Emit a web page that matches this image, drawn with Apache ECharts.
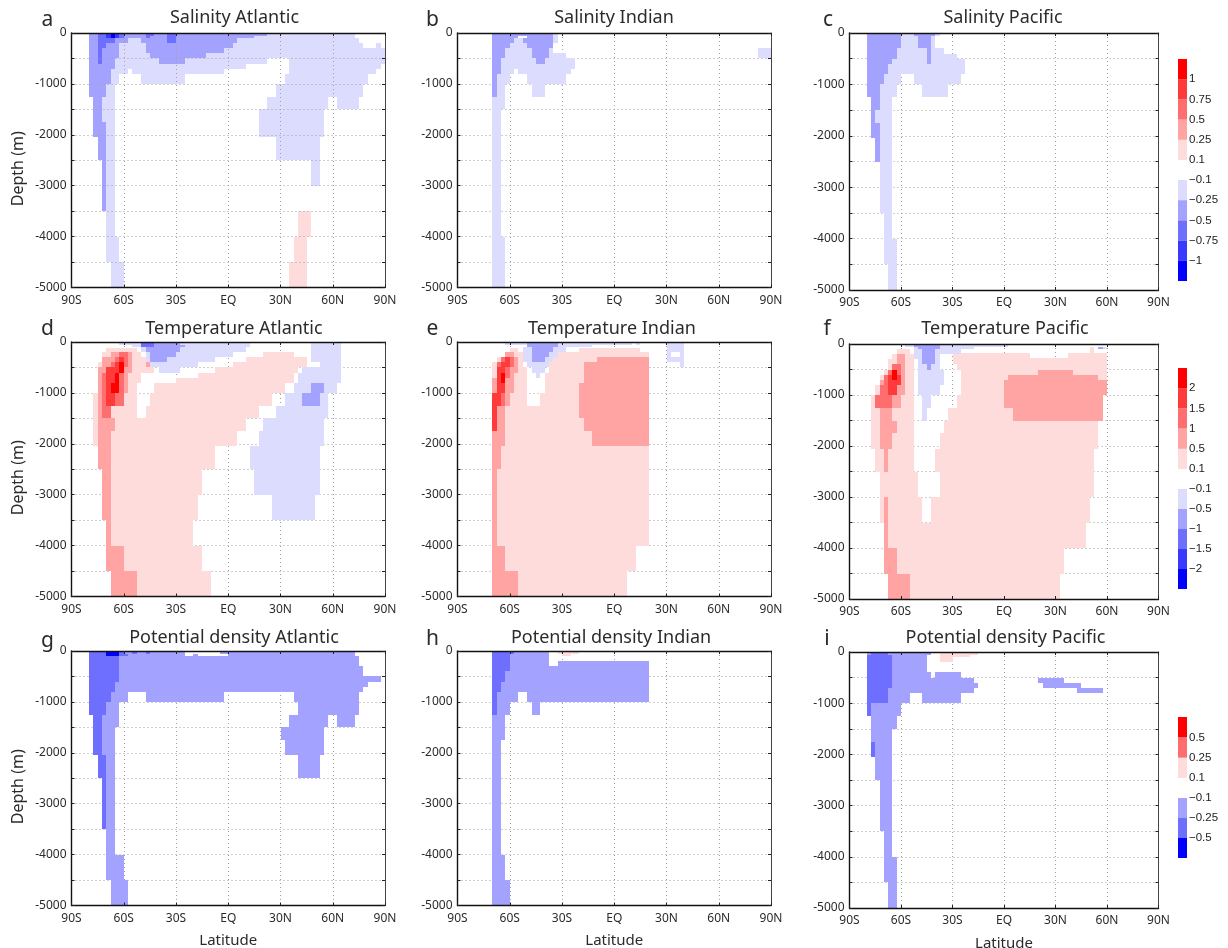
<!DOCTYPE html>
<html><head><meta charset="utf-8">
<style>html,body{margin:0;padding:0;background:#fff}#c{width:1228px;height:948px}</style>
<script src="https://cdn.jsdelivr.net/npm/echarts@6/dist/echarts.min.js"></script>
</head><body><div id="c"></div>
<script>
// Each row: [top depth, bottom depth, level, west, east, west, east, ...]
const salinityAtlantic=[
[0,100,-1,15,72.5],[100,200,-1,-57.5,-50,5,75],[200,300,-1,-62.5,-47.5,2.5,77.5,85,87.5],
[300,400,-1,-65,-45,-2.5,90],[400,500,-1,-65,-45,-12.5,90],[500,600,-1,-65,22.5,35,90],
[600,700,-1,-67.5,10,35,87.5],[700,800,-1,-67.5,-57.5,-55,-2.5,35,85],[800,1000,-1,-67.5,-62.5,-50,-25,32.5,80],
[1000,1250,-1,-70,-65,27.5,77.5],[1250,1500,-1,-72.5,-65,22.5,57.5,62.5,75],[1500,1750,-1,-72.5,-65,17.5,55],
[1750,2050,-1,-70,-65,17.5,55],[2050,2500,-1,-70,-65,27.5,52.5],[2500,3000,-1,-70,-65,47.5,52.5],
[3000,4000,-1,-70,-65],[4000,4500,-1,-70,-62.5],[4500,5000,-1,-67.5,-60],
[3500,4000,1,40,47.5],[4000,4500,1,37.5,45],[4500,5000,1,35,45],
[0,50,-2,-80,22.5],[50,100,-2,-80,15],[100,200,-2,-80,-57.5,-50,5],[200,300,-2,-80,-62.5,-47.5,2.5],
[300,400,-2,-80,-62.5,-47.5,-2.5],[400,500,-2,-80,-62.5,-45,-12.5],[500,600,-2,-80,-65,-40,-25],[600,700,-2,-80,-65],
[700,1000,-2,-80,-67.5],[1000,1250,-2,-80,-70],[1250,1750,-2,-77.5,-72.5],[1750,2050,-2,-77.5,-70],
[2050,2500,-2,-75,-70],[2500,3500,-2,-72.5,-70],
[0,100,-3,-75,-60],[100,200,-3,-75,-65],[200,300,-3,-75,-70],[300,600,-3,-75,-72.5],
[0,50,-3,-47.5,-42.5],[50,100,-3,-47.5,-45],[0,200,-3,-35,-30],
[0,100,-4,-70,-62.5],[0,100,-5,-67.5,-65]];
const salinityIndian=[
[0,200,-1,-35,-32.5],[300,400,-1,-62.5,-35],[400,500,-1,-62.5,-27.5],[500,700,-1,-65,-22.5],
[100,300,-1,-60,-50],[700,800,-1,-65,-57.5,-55,-25],[800,1000,-1,-67.5,-60,-50,-27.5],
[1000,1250,-1,-67.5,-62.5,-47.5,-40],[1250,1500,-1,-70,-62.5],[1500,4000,-1,-70,-65],[4000,5000,-1,-70,-62.5],
[300,500,-1,82.5,90],
[0,50,-2,-70,-35],[50,100,-2,-70,-55,-50,-35],[100,200,-2,-70,-57.5,-52.5,-35],[200,300,-2,-70,-60,-50,-35],
[300,500,-2,-70,-62.5,-47.5,-37.5],[500,600,-2,-70,-65,-45,-40],[600,800,-2,-70,-65],[800,1250,-2,-70,-67.5]];
const salinityPacific=[
[0,50,-1,-60,-37.5],[50,300,-1,-60,-40],[300,400,-1,-62.5,-35],[400,500,-1,-62.5,-27.5],[500,600,-1,-65,-22.5],
[600,800,-1,-67.5,-22.5],[800,1000,-1,-70,-60,-52.5,-25],[1000,1250,-1,-72.5,-62.5,-47.5,-32.5],
[1250,1500,-1,-72.5,-65],[1500,1750,-1,-75,-65],[1750,3500,-1,-72.5,-65],[3500,4000,-1,-70,-65],
[4000,4500,-1,-70,-62.5],[4500,5000,-1,-67.5,-62.5],
[0,300,-2,-80,-60],[300,500,-2,-80,-62.5],[500,600,-2,-80,-65],[600,800,-2,-80,-67.5],[800,1000,-2,-80,-70],
[1000,1250,-2,-80,-72.5],[1250,1500,-2,-77.5,-72.5],[1500,1750,-2,-77.5,-75],[1750,2050,-2,-77.5,-72.5],[2050,2500,-2,-75,-72.5],
[0,50,-2,-52.5,-40],[50,300,-2,-50,-42.5],[300,600,-2,-45,-42.5]];
const temperatureAtlantic=[
[0,50,-1,-62.5,12.5,47.5,65],[50,100,-1,-55,12.5,47.5,65],[100,200,-1,-50,10,47.5,65],[200,300,-1,-47.5,2.5,47.5,65],
[300,400,-1,-47.5,-7.5,47.5,65],[400,500,-1,-45,-17.5,52.5,65],[500,600,-1,-40,-27.5,42.5,65],[600,800,-1,40,65],
[800,1000,-1,37.5,62.5],[1000,1250,-1,32.5,57.5],[1250,1500,-1,27.5,57.5],[1500,1750,-1,20,55],[1750,2050,-1,17.5,55],
[2050,2500,-1,12.5,52.5],[2500,3000,-1,15,52.5],[3000,3500,-1,25,50],
[125,200,1,-70,-52.5],[200,300,1,-72.5,-50,20,37.5],[300,400,1,-72.5,-47.5,10,45],[400,500,1,-75,-45,2.5,45],
[500,600,1,-75,-42.5,-7.5,40],[600,800,1,-75,-50,-17.5,37.5],[700,800,1,-30,37.5],[800,1000,1,-75,-52.5,-42.5,32.5],
[1000,1250,1,-77.5,-52.5,-45,25],[1250,1500,1,-77.5,-52.5,-47.5,17.5],[1500,1750,1,-77.5,10],[1750,2050,1,-77.5,5],
[2050,2500,1,-75,-7.5],[2500,3000,1,-72.5,-15],[3000,3500,1,-72.5,-17.5],[3500,4000,1,-70,-20],[4000,4500,1,-70,-15],[4500,5000,1,-67.5,-10],
[0,100,-2,-50,-27.5],[50,100,-2,-27.5,-25],[100,200,-2,-47.5,-27.5],[200,300,-2,-45,-30],[300,400,-2,-45,-35],
[800,1000,-2,47.5,55],[1000,1250,-2,42.5,52.5],
[0,100,-3,-50,-42.5],
[200,300,2,-67.5,-55],[300,500,2,-72.5,-55],[400,500,2,-47.5,-45],[500,600,2,-75,-55],[600,1000,2,-75,-57.5],[1000,1250,2,-75,-60],
[1250,1500,2,-75,-67.5],[1500,1750,2,-75,-65],[1750,2500,2,-75,-67.5],[2500,3500,2,-72.5,-67.5],[3500,4000,2,-70,-67.5],[4000,4500,2,-70,-60],[4500,5000,2,-67.5,-52.5],
[200,300,3,-62.5,-57.5],[300,400,3,-65,-57.5],[400,500,3,-67.5,-57.5],[500,600,3,-70,-60],[600,1000,3,-72.5,-60],[1000,1250,3,-72.5,-60],[1250,1500,3,-72.5,-67.5],
[300,400,4,-62.5,-60],[400,500,4,-65,-60],[500,1000,4,-70,-62.5],[1000,1250,4,-70,-65],
[400,600,5,-62.5,-60],[600,800,5,-65,-62.5],[800,1000,5,-67.5,-62.5]];
const temperatureIndian=[
[0,50,-1,-62.5,10,12.5,15,30,40],[50,100,-1,-50,-12.5,30,40],[100,200,-1,-52.5,-27.5,30,40],[200,300,-1,-52.5,-32.5,30,32.5,37.5,40],
[300,400,-1,-52.5,-35,30,40],[400,500,-1,-50,-37.5,37.5,40],[500,600,-1,-47.5,-40],[600,700,-1,-45,-42.5],
[125,200,1,-60,-55,-20,15],[200,300,1,-62.5,-52.5,-32.5,20],[300,400,1,-67.5,-52.5,-35,20],[400,500,1,-70,-52.5,-37.5,20],
[500,600,1,-70,-50,-37.5,20],[600,1000,1,-70,-50,-40,20],[1000,1250,1,-70,-50,-42.5,20],[1250,4000,1,-70,20],[4000,4500,1,-70,12.5],[4500,5000,1,-70,7.5],
[0,100,-2,-50,-32.5],[100,200,-2,-47.5,-35],[200,300,-2,-47.5,-37.5],[300,400,-2,-47.5,-40],
[300,400,2,-10,20],[400,800,2,-17.5,20],[800,1500,2,-20,20],[1500,1750,2,-17.5,20],[1750,2050,2,-12.5,20],
[200,300,2,-62.5,-57.5],[300,400,2,-65,-55],[400,600,2,-67.5,-55],[600,700,2,-67.5,-57.5],[700,1000,2,-70,-57.5],[1000,1250,2,-70,-60],
[1250,2050,2,-70,-62.5],[2050,2500,2,-70,-65],[2500,4000,2,-70,-67.5],[4000,4500,2,-70,-62.5],[4500,5000,2,-70,-55],
[300,400,3,-65,-57.5],[400,500,3,-67.5,-57.5],[500,700,3,-67.5,-60],[700,1000,3,-67.5,-62.5],[1000,1250,3,-70,-62.5],
[300,400,4,-62.5,-60],[400,500,4,-65,-60],[500,1000,4,-67.5,-62.5],[1000,1250,4,-70,-65],[1250,1750,4,-70,-67.5],
[600,800,5,-65,-62.5]];
const temperaturePacific=[
[0,50,-1,-57.5,2.5],[50,100,-1,-52.5,-17.5,57.5,60],[100,200,-1,-52.5,-25],[200,300,-1,-52.5,-37.5],[300,500,-1,-50,-37.5],
[500,800,-1,-50,-35],[800,1000,-1,-50,-37.5],[1000,1250,-1,-47.5,-42.5],[1250,1500,-1,-47.5,-45],
[100,175,1,-62.5,-55,50,52.5],[175,200,1,-62.5,-55,-25,15,37.5,60],[50,100,1,50,52.5],[200,275,1,-65,-52.5,-30,15,37.5,60],[275,300,1,-65,-52.5,-30,60],[300,400,1,-67.5,-52.5,-30,60],
[400,500,1,-67.5,-52.5,-27.5,60],[500,600,1,-70,-52.5,-25,60],[600,800,1,-72.5,-52.5,-25,60],[800,1000,1,-75,-52.5,-25,60],
[1000,1250,1,-77.5,-52.5,-27.5,57.5],[1250,1500,1,-77.5,-52.5,-32.5,57.5],[1500,1750,1,-77.5,-52.5,-35,55],[1750,2050,1,-77.5,-52.5,-37.5,55],
[2050,2500,1,-75,-52.5,-40,52.5],[2500,3000,1,-72.5,-50,-37.5,52.5],[3000,3500,1,-72.5,-47.5,-42.5,50],[3500,4000,1,-70,47.5],[4000,4500,1,-70,35],[4500,5000,1,-67.5,32.5],
[0,50,-2,-52.5,-37.5],[50,100,-2,-50,-37.5,55,57.5],[100,400,-2,-47.5,-40],[400,500,-2,-45,-42.5],
[200,400,2,-62.5,-57.5],[400,600,2,-65,-57.5],[600,700,2,-67.5,-57.5],[700,1000,2,-72.5,-57.5],[1000,1250,2,-75,-60],[1250,1500,2,-72.5,-65],
[1500,1750,2,-72.5,-62.5],[1750,2050,2,-72.5,-65],[2050,2500,2,-70,-67.5],[3000,4000,2,-70,-67.5],[4000,4500,2,-70,-62.5],[4500,5000,2,-67.5,-55],
[500,600,2,20,40],[600,700,2,2.5,55],[700,1000,2,0,60],[1000,1250,2,0,57.5],[1250,1500,2,5,57.5],
[400,500,3,-65,-60],[500,600,3,-67.5,-60],[600,800,3,-70,-60],[800,1000,3,-72.5,-62.5],[1000,1250,3,-75,-65],
[500,600,4,-65,-62.5],[600,800,4,-67.5,-60],[800,1000,4,-67.5,-62.5],
[500,700,5,-65,-62.5]];
const densityAtlantic=[
[0,50,-2,-80,-25,-5,72.5],[50,100,-2,-80,-25,-20,-17.5,0,72.5],[100,300,-2,-80,75],[300,500,-2,-80,77.5],[500,600,-2,-80,87.5],
[600,700,-2,-80,80],[700,800,-2,-80,77.5],[800,1000,-2,-80,-57.5,-47.5,-2.5,37.5,75],[1000,1250,-2,-80,-62.5,40,75],
[1250,1500,-2,-72.5,-62.5,35,57.5,62.5,72.5],[1500,1750,-2,-72.5,-65,30,55],[1750,2050,-2,-72.5,-65,32.5,55],[2050,2500,-2,-70,-65,40,52.5],
[2500,4000,-2,-70,-65],[4000,4500,-2,-70,-60],[4500,5000,-2,-67.5,-57.5],
[0,50,-3,-80,-60,-55,-52.5,-47.5,-45],[50,100,-3,-80,-57.5],[100,600,-3,-80,-62.5],[600,800,-3,-80,-65],[800,1000,-3,-80,-67.5],[1000,1250,-3,-80,-70],
[1250,2050,-3,-77.5,-72.5],[2050,2500,-3,-75,-70],[2500,3500,-3,-72.5,-70],
[0,100,-5,-70,-62.5]];
const densityIndian=[
[0,200,-2,-70,-37.5],[200,300,-2,-70,-37.5,-32.5,20],[300,800,-2,-70,20],[800,1000,-2,-70,-55,-50,20],[1000,1250,-2,-70,-60,-47.5,-42.5],
[1250,1750,-2,-70,-62.5],[1750,4000,-2,-70,-65],[4000,4500,-2,-70,-62.5],[4500,5000,-2,-70,-60],
[0,50,-3,-70,-57.5],[50,400,-3,-70,-60],[400,600,-3,-70,-62.5],[600,800,-3,-70,-65],[800,1250,-3,-70,-67.5],
[0,50,1,-32.5,-20],[50,100,1,-30,-25]];
const densityPacific=[
[0,50,-2,-80,-42.5],[50,400,-2,-80,-45],[400,500,-2,-80,-42.5,-40,-25],[500,600,-2,-80,-17.5,20,35],[600,700,-2,-80,-15,22.5,45],
[700,800,-2,-80,-17.5,42.5,57.5],[800,1000,-2,-80,-55,-47.5,-25],[1000,1250,-2,-77.5,-60],[1250,1500,-2,-77.5,-62.5],[1500,1750,-2,-77.5,-65],
[1750,2500,-2,-75,-65],[2500,3500,-2,-72.5,-65],[3500,4000,-2,-70,-65],[4000,4500,-2,-70,-62.5],[4500,5000,-2,-67.5,-62.5],
[0,50,-3,-77.5,-67.5],[50,700,-3,-80,-65],[700,1000,-3,-80,-67.5],[1000,1250,-3,-80,-77.5],[1750,2050,-3,-77.5,-75],
[0,50,1,-37.5,-15],[50,100,1,-37.5,-20],[100,200,1,-37.5,-30]];

const latLabels={'-90':'90S','-60':'60S','-30':'30S','0':'EQ','30':'30N','60':'60N','90':'90N'};
const depthTicks=[0,-1000,-2000,-3000,-4000,-5000];
const panelTitles=['Salinity Atlantic','Salinity Indian','Salinity Pacific','Temperature Atlantic','Temperature Indian','Temperature Pacific','Potential density Atlantic','Potential density Indian','Potential density Pacific'];
const panelLetters=['a','b','c','d','e','f','g','h','i'];
const panelRows=[salinityAtlantic,salinityIndian,salinityPacific,temperatureAtlantic,temperatureIndian,temperaturePacific,densityAtlantic,densityIndian,densityPacific];
const salinityPosLabels=['0.1','0.25','0.5','0.75','1'];
const salinityNegLabels=['\u22120.1','\u22120.25','\u22120.5','\u22120.75','\u22121'];
const temperaturePosLabels=['0.1','0.5','1','1.5','2'];
const temperatureNegLabels=['\u22120.1','\u22120.5','\u22121','\u22121.5','\u22122'];
const densityPosLabels=['0.1','0.25','0.5'];
const densityNegLabels=['\u22120.1','\u22120.25','\u22120.5'];
const fiveLevels=[1,2,3,4,5];
const densityPosLevels=[1,3,5];
const densityNegLevels=[2,3,5];

const palette={1:'#ffdcdc',2:'#ffa3a3',3:'#ff6e6e',4:'#ff3a3a',5:'#ff0000','-1':'#dcdcff','-2':'#a3a3ff','-3':'#6e6eff','-4':'#3a3aff','-5':'#0000ff'};
const txt='#2b2b2b', font='"Noto Sans"';
// panel layout [left, top, width, height, title x, title y, letter x, letter y]
const layout=[
[71.5,33,313.5,254.5,234.5,18,47.5,20],[457.5,33,313.5,254.5,614,18,432.5,20],[849.5,33,309,257,1003,18,828,20],
[71.5,342,313.5,254.5,234,329,47.5,329],[457.5,342,313.5,254.5,612,329,432.5,329],[849.5,344,309,255,1005,329,827,329],
[71.5,651,313.5,254.5,234,638,47.5,641],[457.5,651,313.5,254.5,611,638,432.5,639],[849.5,652,309,256,1005.5,638,827,639]];

function expand(rows){const out=[];rows.forEach(r=>{for(let i=3;i<r.length;i+=2)out.push([r[i],r[i+1],r[0],r[1],r[2]]);});return out;}
function depthRect(p,api){
  const a=api.coord([api.value(0),-api.value(2)]),b=api.coord([api.value(1),-api.value(3)]);
  const x0=Math.round(a[0]),x1=Math.round(b[0]),y0=Math.round(a[1]),y1=Math.round(b[1]);
  return {type:'rect',shape:{x:x0,y:y0,width:x1-x0,height:y1-y0},style:{fill:palette[api.value(4)]}};
}
const opt={animation:false,backgroundColor:'#fff',grid:[],xAxis:[],yAxis:[],series:[],title:[]};
const xBase={type:'value',min:-90,max:90,interval:30};
const yBase={type:'value',min:-5000,max:0,interval:500};
const frame=(c,w)=>({show:true,onZero:false,lineStyle:{color:c,width:w}});
const ticks={show:true,inside:true,length:3,lineStyle:{color:'#222'}};
const dots={show:true,lineStyle:{color:'#a0a0a0',type:[1,3],width:1}};
panelRows.forEach((rows,i)=>{
  const L=layout[i];
  const gridZ=i===0?3:0; // panel a shows its gridlines through the fill
  opt.grid.push({left:L[0],top:L[1],width:L[2],height:L[3],outerBoundsMode:'none'});
  const xi=opt.xAxis.length, yi=opt.yAxis.length;
  opt.xAxis.push(Object.assign({},xBase,{gridIndex:i,position:'bottom',z:gridZ,axisLine:{show:false,onZero:false},axisTick:{show:false},axisLabel:{show:false},splitLine:dots}));
  opt.yAxis.push(Object.assign({},yBase,{gridIndex:i,position:'left',z:gridZ,axisLine:{show:false,onZero:false},axisTick:{show:false},axisLabel:{show:false},splitLine:dots}));
  opt.xAxis.push(Object.assign({},xBase,{gridIndex:i,position:'bottom',z:5,splitLine:{show:false},
    axisLine:frame('#111',1.4),axisTick:ticks,
    axisLabel:{show:true,showMinLabel:true,showMaxLabel:true,hideOverlap:false,margin:7,fontFamily:font,fontSize:12,color:txt,formatter:v=>latLabels[String(v)]||''},
    name:i>=6?'Latitude':'',nameLocation:'middle',nameGap:28,nameTextStyle:{fontFamily:font,fontSize:15,color:txt}}));
  opt.yAxis.push(Object.assign({},yBase,{gridIndex:i,position:'left',z:5,splitLine:{show:false},
    axisLine:frame('#111',1.4),axisTick:ticks,
    axisLabel:{show:true,showMinLabel:true,showMaxLabel:true,hideOverlap:false,margin:5,fontFamily:font,fontSize:12,color:txt,formatter:v=>depthTicks.indexOf(v)>=0?String(v):''},
    name:i%3===0?'Depth (m)':'',nameLocation:'middle',nameGap:45,nameRotate:90,nameTextStyle:{fontFamily:font,fontSize:16,color:txt,padding:[0,17,0,0]}}));
  opt.xAxis.push(Object.assign({},xBase,{gridIndex:i,position:'top',z:5,splitLine:{show:false},axisTick:ticks,axisLabel:{show:false},axisLine:frame('#111',1.4)}));
  opt.yAxis.push(Object.assign({},yBase,{gridIndex:i,position:'right',z:5,splitLine:{show:false},axisTick:ticks,axisLabel:{show:false},axisLine:frame('#444',1)}));
  opt.series.push({type:'custom',name:panelTitles[i],coordinateSystem:'cartesian2d',xAxisIndex:xi+1,yAxisIndex:yi+1,z:2,silent:true,progressive:0,clip:true,
    dimensionsCount:5,encode:{x:[0,1],y:[2,3]},renderItem:depthRect,data:expand(rows)});
  opt.title.push({text:panelTitles[i],left:L[4],top:L[5],padding:0,textAlign:'center',textVerticalAlign:'middle',textStyle:{fontFamily:font,fontSize:18,fontWeight:'normal',color:txt}});
  opt.title.push({text:panelLetters[i],left:L[6],top:L[7],padding:0,textAlign:'center',textVerticalAlign:'middle',textStyle:{fontFamily:font,fontSize:21,fontWeight:'normal',color:txt}});
});
function barRect(p,api){
  const a=api.coord([0,api.value(0)]),b=api.coord([1,api.value(1)]);
  return {type:'rect',shape:{x:a[0],y:Math.min(a[1],b[1]),width:b[0]-a[0],height:Math.abs(a[1]-b[1])},style:{fill:palette[api.value(2)]}};
}
function addBar(top,height,labels,levels,sign){
  const g=opt.grid.length;
  opt.grid.push({left:1178,top:top,width:9,height:height,outerBoundsMode:'none'});
  opt.xAxis.push({type:'value',gridIndex:g,min:0,max:1,show:false,splitLine:{show:false}});
  const xi=opt.xAxis.length-1;
  opt.yAxis.push({type:'value',gridIndex:g,min:0,max:labels.length,interval:1,inverse:sign<0,position:'right',
    axisLine:{show:false},axisTick:{show:false},splitLine:{show:false},
    axisLabel:{show:true,showMinLabel:true,showMaxLabel:true,hideOverlap:false,margin:2,fontFamily:'"Liberation Sans"',fontSize:11.5,color:'#222',formatter:v=>labels[v]||''}});
  const yi=opt.yAxis.length-1;
  opt.series.push({type:'custom',coordinateSystem:'cartesian2d',xAxisIndex:xi,yAxisIndex:yi,silent:true,progressive:0,clip:false,
    dimensionsCount:3,encode:{y:[0,1]},renderItem:barRect,data:levels.map((l,k)=>[k,k+1,l*sign])});
}
addBar(59,101,salinityPosLabels,fiveLevels,1);
addBar(180,101,salinityNegLabels,fiveLevels,-1);
addBar(368,101,temperaturePosLabels,fiveLevels,1);
addBar(489,100,temperatureNegLabels,fiveLevels,-1);
addBar(717,61,densityPosLabels,densityPosLevels,1);
addBar(798,60,densityNegLabels,densityNegLevels,-1);
echarts.init(document.getElementById('c'),null,{renderer:'canvas'}).setOption(opt);
</script></body></html>
